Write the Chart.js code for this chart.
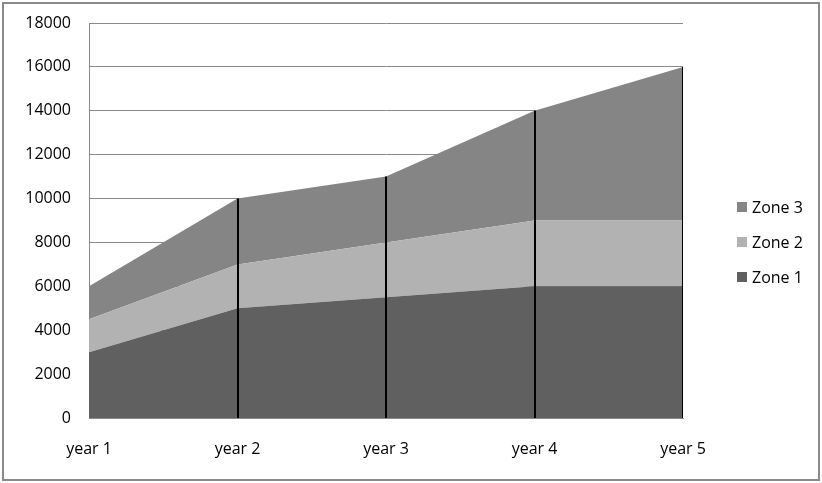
<!DOCTYPE html>
<html>
<head>
<meta charset="utf-8">
<script src="https://cdn.jsdelivr.net/npm/chart.js@4/dist/chart.umd.min.js"></script>
<style>
  html, body { margin: 0; padding: 0; background: #fff; }
  #wrap { position: relative; width: 822px; height: 483px; }
  canvas { display: block; }
</style>
</head>
<body>
<div id="wrap"><canvas id="c" width="822" height="483"></canvas></div>
<script>
// Categories and stacked series values
const categories = ['year 1', 'year 2', 'year 3', 'year 4', 'year 5'];
const zone1 = [3000, 5000, 5500, 6000, 6000];
const zone2 = [1500, 2000, 2500, 3000, 3000];
const zone3 = [1500, 3000, 3000, 5000, 7000];
const seriesNames = ['Zone 1', 'Zone 2', 'Zone 3'];
const yMax = 18000;
const yStep = 2000;

const colors = ['#606060', '#b2b2b2', '#858585'];
const FONT = '"Open Sans", "DejaVu Sans", sans-serif';

// Vertical drop lines from the top of the stack down to the axis
const dropLines = {
  id: 'dropLines',
  afterDatasetsDraw(chart) {
    const { ctx, chartArea, scales } = chart;
    const x = scales.x, y = scales.y;
    ctx.save();
    ctx.beginPath();
    ctx.rect(chartArea.left, chartArea.top, chartArea.right - chartArea.left, chartArea.bottom - chartArea.top);
    ctx.clip();
    ctx.strokeStyle = '#000';
    ctx.lineWidth = 2;
    for (let i = 1; i < categories.length; i++) {
      const total = zone1[i] + zone2[i] + zone3[i];
      const px = Math.round(x.getPixelForValue(i));
      ctx.beginPath();
      ctx.moveTo(px, y.getPixelForValue(total));
      ctx.lineTo(px, y.getPixelForValue(0));
      ctx.stroke();
    }
    ctx.restore();
  }
};

// Legend on the right, top series first, plus the outer frame
const sideLegend = {
  id: 'sideLegend',
  afterDraw(chart) {
    const { ctx } = chart;
    ctx.save();
    const rows = [2, 1, 0];
    const x0 = 737, yCenters = [207, 242, 277];
    ctx.font = '16px ' + FONT;
    ctx.textBaseline = 'middle';
    ctx.textAlign = 'left';
    rows.forEach((d, k) => {
      ctx.fillStyle = colors[d];
      ctx.fillRect(x0, yCenters[k] - 5, 10, 10);
      ctx.fillStyle = '#000';
      ctx.fillText(seriesNames[d], x0 + 15, yCenters[k] + 1);
    });
    ctx.strokeStyle = '#8a8a8a';
    ctx.lineWidth = 2;
    ctx.strokeRect(3, 3, 816, 477);
    ctx.restore();
  }
};

const mk = (label, data, color, fill) => ({
  label, data,
  backgroundColor: color,
  borderColor: color,
  borderWidth: 0,
  pointRadius: 0,
  tension: 0,
  fill
});

new Chart(document.getElementById('c'), {
  type: 'line',
  data: {
    labels: categories,
    datasets: [
      mk(seriesNames[0], zone1, colors[0], 'origin'),
      mk(seriesNames[1], zone2, colors[1], '-1'),
      mk(seriesNames[2], zone3, colors[2], '-1')
    ]
  },
  options: {
    responsive: false,
    animation: false,
    layout: { padding: { left: 0, right: 139, top: 23, bottom: 0 } },
    plugins: { legend: { display: false }, tooltip: { enabled: false } },
    scales: {
      x: {
        offset: false,
        grid: { display: false, drawTicks: false },
        border: { display: true, color: '#8a8a8a', width: 1 },
        ticks: { color: '#000', font: { family: FONT, size: 16 }, padding: 22, maxRotation: 0, autoSkip: false },
        afterFit(scale) { scale.height = 65; scale.paddingLeft = 0; scale.paddingRight = 0; }
      },
      y: {
        stacked: true,
        min: 0, max: yMax,
        grid: { color: '#8a8a8a', lineWidth: 1, drawTicks: false },
        border: { display: true, color: '#8a8a8a', width: 1 },
        ticks: {
          stepSize: yStep, color: '#000', font: { family: FONT, size: 16 }, padding: 18,
          callback: (v) => String(v)
        },
        afterFit(scale) { scale.width = 89; scale.paddingTop = 0; scale.paddingBottom = 0; }
      }
    }
  },
  plugins: [dropLines, sideLegend]
});
</script>
</body>
</html>
